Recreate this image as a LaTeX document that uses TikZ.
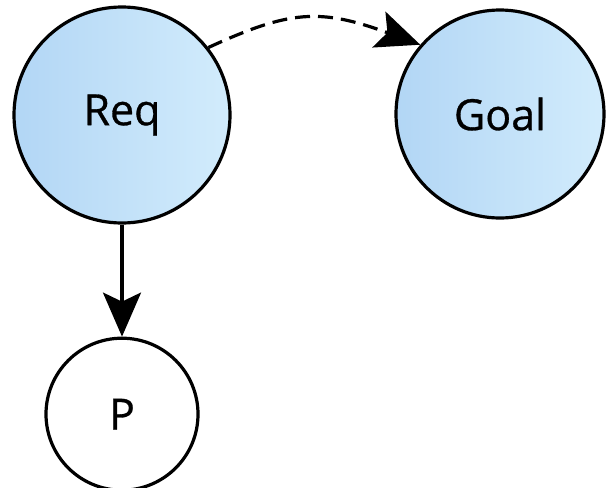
\documentclass[tikz,border=0pt]{standalone}
\usepackage{fontspec}
\newfontfamily\figfont{Open Sans}[FakeBold=0.7]
\usetikzlibrary{positioning,arrows.meta}
\definecolor{goalblue}{RGB}{178,214,245}
\definecolor{goallight}{RGB}{210,236,252}
\tikzset{
  fig/.style={font=\figfont\fontsize{43}{50}\selectfont},
  state/.style={circle,draw,line width=3.2pt,inner sep=0pt,align=center},
  bluestate/.style={state,left color=goalblue,right color=goallight},
  ln/.style={-{Stealth[length=44pt,width=38pt,inset=9pt]},line width=3.2pt},
  dln/.style={ln,dash pattern=on 15pt off 8pt},
}

\begin{document}
\begin{tikzpicture}[fig,x=1pt,y=-1pt]
\useasboundingbox (0,0) rectangle (606,488);

\node[bluestate,minimum size=216pt] (req) at (122,115) {Req};
\node[bluestate,minimum size=208pt] (goal) at (500,114) {Goal};
\node[state,fill=white,minimum size=152pt,below=112pt of req] (p) {P};

\draw[ln] (req) -- (p);
\draw[dln] (req.38) .. controls (290,10) and (320,8) .. (goal.139);

\end{tikzpicture}
\end{document}
